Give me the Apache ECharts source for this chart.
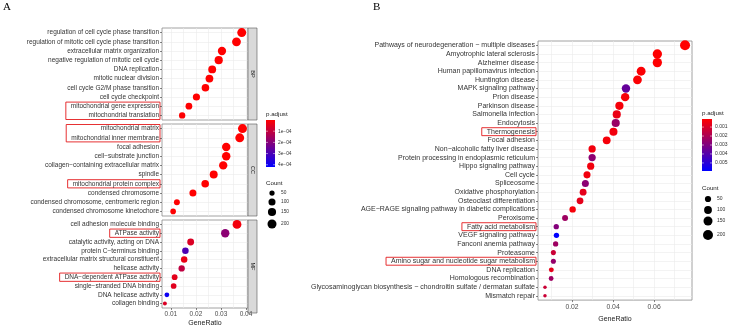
<!DOCTYPE html>
<html>
<head>
<meta charset="utf-8">
<script src="https://cdn.jsdelivr.net/npm/echarts@6/dist/echarts.min.js"></script>
<style>
  html, body { margin: 0; padding: 0; background: #fff; }
  #main { width: 729px; height: 328px; }
</style>
</head>
<body>
<div id="main"></div>
<script>
// ---- panel A : GO enrichment (BP / CC / MF) ----
const bpTerms = ['regulation of cell cycle phase transition', 'regulation of mitotic cell cycle phase transition',
  'extracellular matrix organization', 'negative regulation of mitotic cell cycle', 'DNA replication',
  'mitotic nuclear division', 'cell cycle G2/M phase transition', 'cell cycle checkpoint',
  'mitochondrial gene expression', 'mitochondrial translation']
const bpRatio = [0.0383, 0.0362, 0.0304, 0.0291, 0.0265, 0.0254, 0.0238, 0.0202, 0.0172, 0.0145]
const bpCount = [199, 188, 158, 151, 138, 132, 124, 105, 89, 75]
const bpPadj = [1.2e-9, 3.5e-9, 8.1e-9, 2.4e-8, 5.6e-8, 6.3e-8, 9.8e-8, 4.4e-7, 1.1e-6, 2.7e-6]

const ccTerms = ['mitochondrial matrix', 'mitochondrial inner membrane', 'focal adhesion', 'cell\u2212substrate junction',
  'collagen\u2212containing extracellular matrix', 'spindle', 'mitochondrial protein complex', 'condensed chromosome',
  'condensed chromosome, centromeric region', 'condensed chromosome kinetochore']
const ccRatio = [0.0386, 0.0375, 0.0321, 0.0321, 0.0309, 0.0271, 0.0237, 0.0188, 0.0124, 0.0109]
const ccCount = [201, 195, 167, 167, 161, 141, 123, 98, 64, 57]
const ccPadj = [2.0e-9, 4.1e-9, 6.0e-9, 7.2e-9, 1.5e-8, 4.0e-8, 9.0e-8, 3.1e-7, 1.2e-6, 2.0e-6]

const mfTerms = ['cell adhesion molecule binding', 'ATPase activity', 'catalytic activity, acting on DNA',
  'protein C\u2212terminus binding', 'extracellular matrix structural constituent', 'helicase activity',
  'DNA\u2212dependent ATPase activity', 'single\u2212stranded DNA binding', 'DNA helicase activity', 'collagen binding']
const mfRatio = [0.0364, 0.0317, 0.0179, 0.0158, 0.0153, 0.0143, 0.0115, 0.0111, 0.0084, 0.0076]
const mfCount = [189, 165, 93, 82, 80, 74, 60, 58, 44, 40]
const mfPadj = [0.2e-4, 1.9e-4, 0.6e-4, 2.95e-4, 0.35e-4, 1.05e-4, 0.45e-4, 0.5e-4, 4.0e-4, 0.6e-4]

// ---- panel B : KEGG enrichment ----
const keggTerms = ['Pathways of neurodegeneration \u2212 multiple diseases', 'Amyotrophic lateral sclerosis',
  'Alzheimer disease', 'Human papillomavirus infection', 'Huntington disease', 'MAPK signaling pathway',
  'Prion disease', 'Parkinson disease', 'Salmonella infection', 'Endocytosis', 'Thermogenesis', 'Focal adhesion',
  'Non\u2212alcoholic fatty liver disease', 'Protein processing in endoplasmic reticulum', 'Hippo signaling pathway',
  'Cell cycle', 'Spliceosome', 'Oxidative phosphorylation', 'Osteoclast differentiation',
  'AGE\u2212RAGE signaling pathway in diabetic complications', 'Peroxisome', 'Fatty acid metabolism',
  'VEGF signaling pathway', 'Fanconi anemia pathway', 'Proteasome', 'Amino sugar and nucleotide sugar metabolism',
  'DNA replication', 'Homologous recombination',
  'Glycosaminoglycan biosynthesis \u2212 chondroitin sulfate / dermatan sulfate', 'Mismatch repair']
const keggRatio = [0.0751, 0.0616, 0.0616, 0.0537, 0.0519, 0.0463, 0.0459, 0.0431, 0.0418, 0.0413,
  0.0402, 0.0369, 0.0298, 0.0298, 0.0291, 0.0273, 0.0265, 0.0254, 0.0239, 0.0203,
  0.0166, 0.0123, 0.0124, 0.0120, 0.0109, 0.0109, 0.0099, 0.0098, 0.0068, 0.0068]
const keggCount = [203, 166, 166, 145, 140, 125, 124, 116, 113, 112, 109, 100, 80, 80, 79, 74, 72, 69, 65, 55,
  45, 33, 33, 32, 29, 29, 27, 26, 18, 18]
const keggPadj = [0.0001, 0.00012, 0.00012, 0.0002, 0.0002, 0.0036, 0.0003, 0.0003, 0.00056, 0.0024,
  0.0004, 0.0003, 0.0004, 0.0027, 0.0004, 0.0004, 0.0027, 0.0007, 0.0007, 0.0003,
  0.0023, 0.0029, 0.0059, 0.0023, 0.0013, 0.0025, 0.0007, 0.0023, 0.0013, 0.0013]

// ticks / legend breaks
const aTicks = [0.01, 0.02, 0.03, 0.04]
const aMinor = [0.015, 0.025, 0.035]
const bTicks = [0.02, 0.04, 0.06]
const bMinor = [0.01, 0.03, 0.05, 0.07]
const aPadjBreaks = [1e-4, 2e-4, 3e-4, 4e-4]
const aPadjLabels = ['1e\u221204', '2e\u221204', '3e\u221204', '4e\u221204']
const bPadjBreaks = [0.001, 0.002, 0.003, 0.004, 0.005]
const countBreaks = [50, 100, 150, 200]

const FONT = "'Liberation Sans', Arial, sans-serif"
const A_MIN = 0.00645, A_MAX = 0.0408
const B_MIN = 0.0034, B_MAX = 0.0785
const A_PMIN = 0, A_PMAX = 4.2e-4
const B_PMIN = 0.0001, B_PMAX = 0.0059

const sizeA = c => 4 + 5 * Math.sqrt(Math.max(0, c - 40) / 160)
const sizeB = c => 3.5 + 6.5 * Math.sqrt(Math.max(0, c - 18) / 185)

const panelsA = [
  { terms: bpTerms, ratio: bpRatio, count: bpCount, padj: bpPadj, strip: 'BP', top: 28, height: 92 },
  { terms: ccTerms, ratio: ccRatio, count: ccCount, padj: ccPadj, strip: 'CC', top: 124, height: 92 },
  { terms: mfTerms, ratio: mfRatio, count: mfCount, padj: mfPadj, strip: 'MF', top: 220, height: 93 }
]
const gridB = { left: 538, top: 41, width: 154, height: 268 }
const gridAleft = 162, gridAwidth = 86

const gridLine = { color: '#ebebeb', width: 0.6 }
const tickStyle = { color: '#333', width: 0.6 }

const grids = [], xAxes = [], yAxes = [], series = []

panelsA.forEach((p, i) => {
  const bottom = i === 2
  grids.push({ left: gridAleft, top: p.top, width: gridAwidth, height: p.height, show: true,
    backgroundColor: '#fff', borderColor: '#8a8a8a', borderWidth: 0.8 })
  xAxes.push({
    type: 'value', gridIndex: i, min: A_MIN, max: A_MAX,
    axisLine: { show: false },
    axisTick: { show: bottom, length: 2, customValues: aTicks, lineStyle: tickStyle },
    axisLabel: { show: bottom, customValues: aTicks, formatter: v => v.toFixed(2), fontSize: 6.5,
      color: '#4d4d4d', margin: 3, fontFamily: FONT },
    splitLine: { show: true, lineStyle: gridLine },
    name: bottom ? 'GeneRatio' : '', nameLocation: 'middle', nameGap: 12,
    nameTextStyle: { fontSize: 7, color: '#222', fontFamily: FONT }
  })
  xAxes.push({
    type: 'value', gridIndex: i, min: A_MIN, max: A_MAX,
    axisLine: { show: false }, axisTick: { show: false, customValues: aMinor },
    axisLabel: { show: false, customValues: aMinor },
    splitLine: { show: true, lineStyle: gridLine }
  })
  yAxes.push({
    type: 'category', gridIndex: i, data: p.terms, inverse: true,
    axisLine: { show: false },
    axisTick: { show: true, alignWithLabel: true, length: 2, lineStyle: tickStyle },
    axisLabel: { interval: 0, fontSize: 6.5, color: '#333', margin: 3, fontFamily: FONT },
    splitLine: { show: true, alignWithLabel: true, lineStyle: gridLine }
  })
  series.push({
    type: 'scatter', xAxisIndex: 2 * i, yAxisIndex: i,
    data: p.terms.map((t, k) => [p.ratio[k], t, p.padj[k], p.count[k]]),
    symbolSize: v => sizeA(v[3]),
    itemStyle: { opacity: 1 }
  })
})

grids.push(Object.assign({ show: true, backgroundColor: '#fff', borderColor: '#8a8a8a', borderWidth: 0.8 }, gridB))
xAxes.push({
  type: 'value', gridIndex: 3, min: B_MIN, max: B_MAX,
  axisLine: { show: false },
  axisTick: { show: true, length: 2, customValues: bTicks, lineStyle: tickStyle },
  axisLabel: { customValues: bTicks, formatter: v => v.toFixed(2), fontSize: 6.8, color: '#4d4d4d',
    margin: 4, fontFamily: FONT },
  splitLine: { show: true, lineStyle: gridLine },
  name: 'GeneRatio', nameLocation: 'middle', nameGap: 15,
  nameTextStyle: { fontSize: 7, color: '#222', fontFamily: FONT }
})
xAxes.push({
  type: 'value', gridIndex: 3, min: B_MIN, max: B_MAX,
  axisLine: { show: false }, axisTick: { show: false, customValues: bMinor },
  axisLabel: { show: false, customValues: bMinor },
  splitLine: { show: true, lineStyle: gridLine }
})
yAxes.push({
  type: 'category', gridIndex: 3, data: keggTerms, inverse: true,
  axisLine: { show: false },
  axisTick: { show: true, alignWithLabel: true, length: 2, lineStyle: tickStyle },
  axisLabel: { interval: 0, fontSize: 7, color: '#333', margin: 3, fontFamily: FONT },
  splitLine: { show: true, alignWithLabel: true, lineStyle: gridLine }
})
series.push({
  type: 'scatter', xAxisIndex: 6, yAxisIndex: 3,
  data: keggTerms.map((t, k) => [keggRatio[k], t, keggPadj[k], keggCount[k]]),
  symbolSize: v => sizeB(v[3]),
  itemStyle: { opacity: 1 }
})

const chart = echarts.init(document.getElementById('main'), null, { renderer: 'canvas' })
chart.setOption({
  animation: false,
  backgroundColor: '#fff',
  textStyle: { fontFamily: FONT },
  grid: grids, xAxis: xAxes, yAxis: yAxes, series: series,
  visualMap: [
    { type: 'continuous', show: false, dimension: 2, min: A_PMIN, max: A_PMAX, seriesIndex: [0, 1, 2],
      inRange: { color: ['#ff0000', '#0000ff'] } },
    { type: 'continuous', show: false, dimension: 2, min: B_PMIN, max: B_PMAX, seriesIndex: 3,
      inRange: { color: ['#ff0000', '#0000ff'] } }
  ]
})

// ---- extra drawing: letters, strips, legends, highlight boxes ----
const g = []
const txt = (x, y, s, size, opt) => g.push({ type: 'text', x: x, y: y,
  style: Object.assign({ text: s, fontSize: size, fontFamily: FONT, fill: '#222' }, opt || {}) })

txt(3, 2, 'A', 11, { fontFamily: "'Liberation Serif', serif", fill: '#000' })
txt(373, 2, 'B', 11, { fontFamily: "'Liberation Serif', serif", fill: '#000' })

// facet strips
panelsA.forEach(p => {
  g.push({ type: 'rect', shape: { x: gridAleft + gridAwidth, y: p.top, width: 9, height: p.height },
    style: { fill: '#d9d9d9', stroke: '#555', lineWidth: 0.6 } })
  g.push({ type: 'text', x: gridAleft + gridAwidth + 4.5, y: p.top + p.height / 2, rotation: -Math.PI / 2,
    style: { text: p.strip, fontSize: 5.5, fontFamily: FONT, fill: '#1a1a1a', align: 'center', verticalAlign: 'middle' } })
})

function colorbar(x, y, w, h, pmin, pmax, breaks, labels, titleY, size) {
  txt(x, titleY, 'p.adjust', 6.2, { verticalAlign: 'middle' })
  g.push({ type: 'rect', shape: { x: x, y: y, width: w, height: h },
    style: { fill: new echarts.graphic.LinearGradient(0, 0, 0, 1, [
      { offset: 0, color: '#ff0000' }, { offset: 1, color: '#0000ff' }]) } })
  breaks.forEach((b, k) => {
    const yy = y + (b - pmin) / (pmax - pmin) * h
    g.push({ type: 'line', shape: { x1: x, y1: yy, x2: x + 2, y2: yy }, style: { stroke: '#fff', lineWidth: 0.5 } })
    g.push({ type: 'line', shape: { x1: x + w - 2, y1: yy, x2: x + w, y2: yy }, style: { stroke: '#fff', lineWidth: 0.5 } })
    txt(x + w + 3, yy, labels[k], size, { verticalAlign: 'middle', fill: '#333' })
  })
}
function countLegend(x, titleY, ys, sizeFn, labelX, size) {
  txt(x - 6, titleY, 'Count', 6.2, { verticalAlign: 'middle' })
  countBreaks.forEach((c, k) => {
    g.push({ type: 'circle', shape: { cx: x, cy: ys[k], r: sizeFn(c) / 2 }, style: { fill: '#000' } })
    txt(labelX, ys[k], String(c), size, { verticalAlign: 'middle', fill: '#333' })
  })
}
colorbar(266, 120, 9, 47, A_PMIN, A_PMAX, aPadjBreaks, aPadjLabels, 114, 4.8)
countLegend(272, 183, [193, 202, 212, 224], sizeA, 281, 4.8)
colorbar(702, 119, 10, 52, B_PMIN, B_PMAX, bPadjBreaks, bPadjBreaks.map(v => v.toFixed(3)), 113, 5)
countLegend(708, 188, [199, 210, 221, 235], sizeB, 717, 5)

// red boxes round highlighted labels
const measure = document.createElement('canvas').getContext('2d')
function textW(s, size) { measure.font = size + 'px ' + FONT; return measure.measureText(s).width }
const boxSpecs = [
  { axis: 0, terms: bpTerms, from: 8, to: 9, size: 6.5, left: gridAleft, h: 92 },
  { axis: 1, terms: ccTerms, from: 0, to: 1, size: 6.5, left: gridAleft, h: 92 },
  { axis: 1, terms: ccTerms, from: 6, to: 6, size: 6.5, left: gridAleft, h: 92 },
  { axis: 2, terms: mfTerms, from: 1, to: 1, size: 6.5, left: gridAleft, h: 93 },
  { axis: 2, terms: mfTerms, from: 6, to: 6, size: 6.5, left: gridAleft, h: 93 },
  { axis: 3, terms: keggTerms, from: 10, to: 10, size: 7, left: gridB.left, h: gridB.height },
  { axis: 3, terms: keggTerms, from: 21, to: 21, size: 7, left: gridB.left, h: gridB.height },
  { axis: 3, terms: keggTerms, from: 25, to: 25, size: 7, left: gridB.left, h: gridB.height }
]
boxSpecs.forEach(b => {
  const y1 = chart.convertToPixel({ yAxisIndex: b.axis }, b.terms[b.from])
  const y2 = chart.convertToPixel({ yAxisIndex: b.axis }, b.terms[b.to])
  const half = b.h / b.terms.length / 2
  let w = 0
  for (let k = b.from; k <= b.to; k++) w = Math.max(w, textW(b.terms[k], b.size))
  const right = b.left - 2
  g.push({ type: 'rect', shape: { x: right - w - 6, y: y1 - half + 0.5, width: w + 6, height: y2 - y1 + 2 * half - 1 },
    style: { fill: 'none', stroke: '#e31a1c', lineWidth: 0.9 } })
})

chart.setOption({ graphic: { elements: g } })
</script>
</body>
</html>
